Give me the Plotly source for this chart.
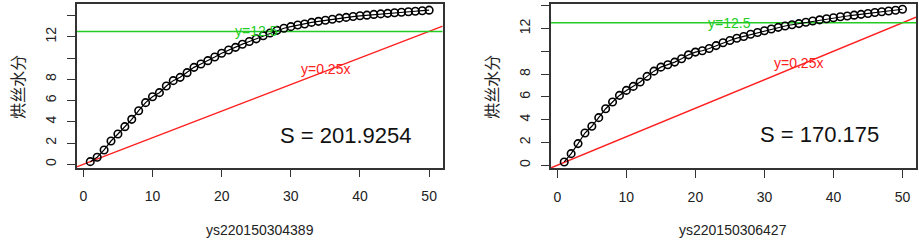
import plotly.graph_objects as go

W, H = 919, 243

x_idx = list(range(1, 51))

# panel 1: ys220150304389
y1 = [0.25, 0.66, 1.35, 2.19, 2.85, 3.54, 4.23, 5.04, 5.80, 6.36,
      6.74, 7.37, 7.87, 8.18, 8.62, 9.12, 9.44, 9.75, 10.10, 10.45,
      10.75, 11.00, 11.30, 11.55, 11.80, 12.10, 12.35, 12.60, 12.80, 12.95,
      13.10, 13.20, 13.35, 13.45, 13.55, 13.65, 13.75, 13.82, 13.90, 13.97,
      14.03, 14.10, 14.15, 14.20, 14.25, 14.30, 14.35, 14.40, 14.45, 14.50]

# panel 2: ys220150306427
y2 = [0.29, 1.02, 1.90, 2.83, 3.42, 4.18, 4.96, 5.55, 6.13, 6.57,
      6.92, 7.30, 7.80, 8.26, 8.61, 8.82, 9.05, 9.34, 9.69, 9.93,
      10.05, 10.25, 10.50, 10.75, 10.95, 11.15, 11.30, 11.50, 11.65, 11.80,
      11.95, 12.10, 12.22, 12.33, 12.43, 12.55, 12.66, 12.76, 12.85, 12.95,
      13.03, 13.10, 13.17, 13.24, 13.32, 13.40, 13.47, 13.54, 13.60, 13.69]

names = ["ys220150304389", "ys220150306427"]
s_labels = ["S = 201.9254", "S = 170.175"]
ylabel = "烘丝水分"
h_level = 12.5
slope = 0.25
x_ticks = [0, 10, 20, 30, 40, 50]
y_ticks = [0, 2, 4, 6, 8, 10, 12, 14]
y_ticktext = ["0", "2", "4", "6", "8", "", "12", ""]

FONT = "Liberation Sans, Arial, sans-serif"
CJK = "Noto Sans CJK SC, sans-serif"
AX = "#333333"
GREEN = "#22cc22"
RED = "#ff2020"

# panel boxes in pixels (left, right, top, bottom)
boxes = [(76.7, 442.7, 4.0, 167.7), (550.7, 916.0, 4.0, 168.0)]
yranges = [[-0.32, 15.08], [-0.24, 14.15]]
xrange_ = [-0.96, 51.96]

fig = go.Figure()

for i, (ys, box) in enumerate(zip([y1, y2], boxes)):
    xa = "x" if i == 0 else "x2"
    ya = "y" if i == 0 else "y2"
    fig.add_trace(go.Scatter(x=[xrange_[0], xrange_[1]], y=[slope * xrange_[0], slope * xrange_[1]],
                             mode="lines", line=dict(color=RED, width=1.4),
                             xaxis=xa, yaxis=ya, showlegend=False, hoverinfo="skip"))
    fig.add_trace(go.Scatter(x=[xrange_[0], xrange_[1]], y=[h_level, h_level],
                             mode="lines", line=dict(color=GREEN, width=1.4),
                             xaxis=xa, yaxis=ya, showlegend=False, hoverinfo="skip"))
    fig.add_trace(go.Scatter(x=x_idx, y=ys, mode="lines+markers",
                             line=dict(color="black", width=1.2),
                             marker=dict(symbol="circle-open", size=7.5, color="black",
                                         line=dict(width=1.6, color="black")),
                             xaxis=xa, yaxis=ya, showlegend=False))
    fig.add_annotation(x=25, y=h_level, xref=xa, yref=ya, text="y=12.5", showarrow=False,
                       font=dict(family=FONT, size=14, color=GREEN), xanchor="center", yanchor="middle")
    fig.add_annotation(x=35, y=9, xref=xa, yref=ya, text="y=0.25x", showarrow=False,
                       font=dict(family=FONT, size=14, color=RED), xanchor="center", yanchor="middle")
    fig.add_annotation(x=38, y=2.7, xref=xa, yref=ya, text=s_labels[i], showarrow=False,
                       font=dict(family=FONT, size=22, color="#111111"), xanchor="center", yanchor="middle")
    l, r, t, b = box
    fig.add_annotation(x=(l + r) / 2 / W, y=1 - 230 / H, xref="paper", yref="paper",
                       text=names[i], showarrow=False, font=dict(family=FONT, size=14, color="#222222"),
                       xanchor="center", yanchor="middle")
    fig.add_annotation(x=(l - 60) / W, y=1 - 87 / H, xref="paper", yref="paper",
                       text=ylabel, showarrow=False, textangle=-90,
                       font=dict(family=CJK, size=16, color="#222222"),
                       xanchor="center", yanchor="middle")

axis_common = dict(showgrid=False, zeroline=False, showline=True, mirror=True,
                   linecolor=AX, linewidth=1.5, ticks="outside", tickcolor=AX,
                   tickwidth=1.2, ticklen=8, tickfont=dict(family=FONT, size=14, color="#222222"))

for i, box in enumerate(boxes):
    l, r, t, b = box
    sfx = "" if i == 0 else "2"
    fig.update_layout(**{
        "xaxis" + sfx: dict(axis_common, domain=[l / W, r / W], range=xrange_,
                            tickvals=x_ticks, anchor="y" + sfx, ticklabelstandoff=7),
        "yaxis" + sfx: dict(axis_common, domain=[1 - b / H, 1 - t / H], range=yranges[i],
                            tickvals=y_ticks, ticktext=y_ticktext, tickangle=-90,
                            anchor="x" + sfx, ticklabelstandoff=5),
    })

fig.update_layout(width=W, height=H, margin=dict(l=0, r=0, t=0, b=0, autoexpand=False),
                  paper_bgcolor="white", plot_bgcolor="white")

fig.write_html("out.html", config={"displayModeBar": False},
               post_script="document.body.style.margin='0';document.body.style.overflow='hidden';")
